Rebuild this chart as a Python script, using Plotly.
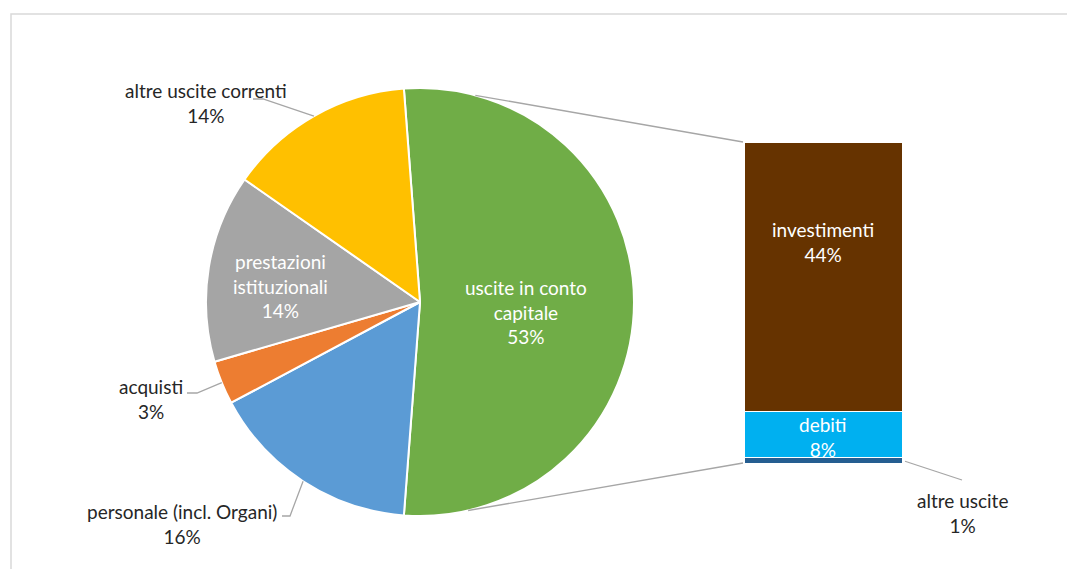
import math
import plotly.graph_objects as go

# pie data (shares)
pie_labels = ["uscite in conto capitale", "personale (incl. Organi)", "acquisti",
              "prestazioni istituzionali", "altre uscite correnti"]
pie_values = [52.4, 16.0, 3.3, 14.2, 14.1]
pie_text = ["uscite in conto<br>capitale<br>53%", "personale (incl. Organi)<br>16%",
            "acquisti<br>3%", "prestazioni<br>istituzionali<br>14%",
            "altre uscite correnti<br>14%"]
pie_colors = ["#70AD47", "#5B9BD5", "#ED7D31", "#A5A5A5", "#FFC000"]

# bar (detail of "uscite in conto capitale"), bottom to top
bar_labels = ["altre uscite", "debiti", "investimenti"]
bar_values = [0.9, 7.6, 43.9]
bar_text = ["altre uscite<br>1%", "debiti<br>8%", "investimenti<br>44%"]
bar_colors = ["#255E91", "#00B0F0", "#663300"]

W, H = 1075, 569
OFF = 8  # page body margin
FONT = "Lato"
FS = 19
DARK = "#262626"


def px(x):
    return (x - OFF) / W


def py(y):
    return 1 - (y - OFF) / H


# pie geometry (pixels, page coordinates)
cx, cy, r = 420, 302, 214
pie_dom_x = [px(cx - r), px(cx + r)]
pie_dom_y = [py(cy + r), py(cy - r)]
rotation = 90 - pie_values[0] / sum(pie_values) * 360 / 2

# bar geometry
bx0, bx1, by_top, by_bot = 745, 903, 143, 464
bar_total = sum(bar_values)

fig = go.Figure()

fig.add_trace(go.Pie(
    labels=pie_labels, values=pie_values, sort=False, direction="clockwise",
    rotation=rotation, marker=dict(colors=pie_colors, line=dict(color="white", width=2)),
    textinfo="none", hoverinfo="skip", showlegend=False,
    domain=dict(x=pie_dom_x, y=pie_dom_y),
))

for lab, val, col in zip(bar_labels, bar_values, bar_colors):
    fig.add_trace(go.Bar(
        x=[0], y=[val], name=lab, marker=dict(color=col, line=dict(color="white", width=1.5)),
        width=1, hoverinfo="skip", showlegend=False,
    ))


def slice_angle(i, frac=0.5):
    tot = sum(pie_values)
    start = rotation + sum(pie_values[:i]) / tot * 360
    return start + pie_values[i] / tot * 360 * frac


def on_pie(angle_deg, rr=r):
    a = math.radians(angle_deg)
    return cx + rr * math.sin(a), cy - rr * math.cos(a)


def bar_y(v):
    return by_bot - v / bar_total * (by_bot - by_top)


def path(points):
    d = "M " + " L ".join(f"{px(x):.5f},{py(y):.5f}" for x, y in points)
    return dict(type="path", path=d, xref="paper", yref="paper",
                line=dict(color="#A6A6A6", width=1.3), layer="above")


shapes = []
# chart border
shapes.append(dict(type="rect", xref="paper", yref="paper", x0=px(11), x1=1.02,
                   y0=-0.02, y1=py(14), line=dict(color="#D9D9D9", width=1.5),
                   layer="below"))
# connector lines pie -> bar
shapes.append(path([on_pie(15), (bx0 - 2, by_top - 1)]))
shapes.append(path([on_pie(167), (bx0 - 2, by_bot - 1)]))

# leader lines
shapes.append(path([(253, 99), (263, 99), on_pie(slice_angle(4))]))
shapes.append(path([(187, 393), (197, 393), on_pie(slice_angle(2))]))
shapes.append(path([(282, 516), (290, 516), on_pie(slice_angle(1))]))
shapes.append(path([(bx1 + 2, bar_y(bar_values[0] / 2)), (962, 480)]))


def note(text, x, y, color=DARK):
    return dict(text=text, x=px(x), y=py(y), xref="paper", yref="paper",
                showarrow=False, xanchor="center", yanchor="middle",
                font=dict(family=FONT, size=FS, color=color), align="center")


annotations = [
    note(pie_text[4], 206, 103),
    note(pie_text[2], 151, 399),
    note(pie_text[1], 182, 524),
    note(bar_text[0], 962, 513),
    note(pie_text[0], 526, 312, "white"),
    note(pie_text[3], 280, 286, "white"),
    note(bar_text[2], 823, 242, "white"),
    note(bar_text[1], 823, 437, "white"),
]

fig.update_layout(
    width=W, height=H, margin=dict(l=0, r=0, t=0, b=0),
    paper_bgcolor="white", plot_bgcolor="white", barmode="stack", bargap=0,
    xaxis=dict(domain=[px(bx0), px(bx1)], range=[-0.5, 0.5], visible=False, fixedrange=True),
    yaxis=dict(domain=[py(by_bot), py(by_top)], range=[0, bar_total], visible=False, fixedrange=True),
    shapes=shapes, annotations=annotations,
    font=dict(family=FONT, size=FS, color=DARK),
)

fig.write_html("out.html")
